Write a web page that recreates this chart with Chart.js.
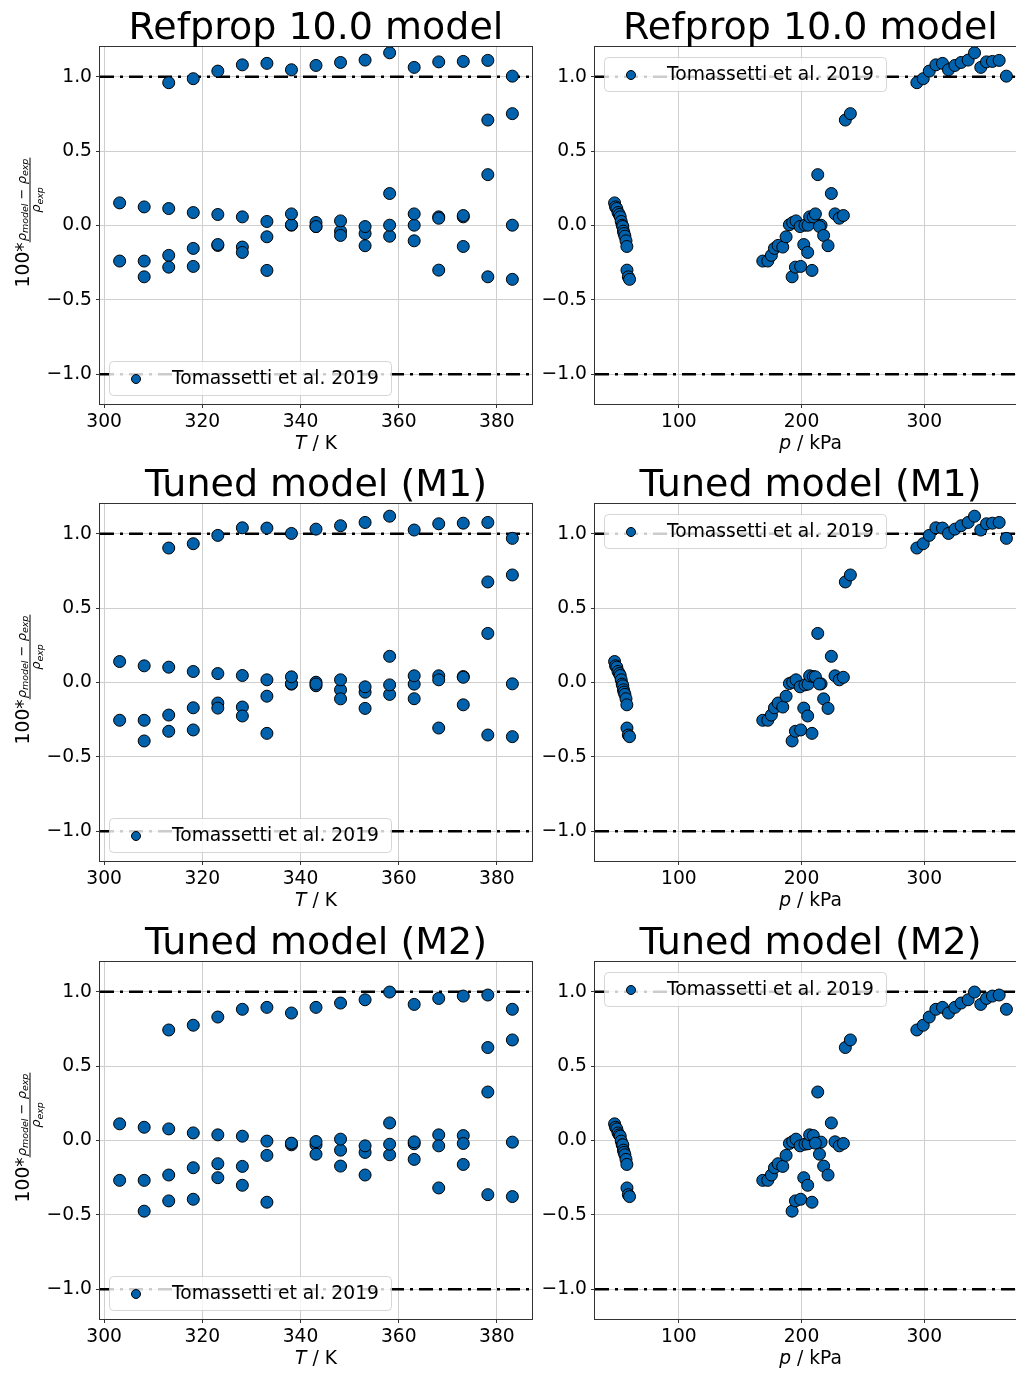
<!DOCTYPE html>
<html>
<head>
<meta charset="utf-8">
<script src="https://cdn.jsdelivr.net/npm/chart.js@4.4.1/dist/chart.umd.min.js"></script>
<style>
  html, body { margin: 0; padding: 0; background: #fff; }
  body { width: 1016px; height: 1373px; overflow: hidden; position: relative; }
  canvas { position: absolute; }
</style>
</head>
<body>
<canvas id="c0" width="540" height="454" style="left:0px;top:0px"></canvas>
<canvas id="c1" width="500" height="454" style="left:540px;top:0px"></canvas>
<canvas id="c2" width="540" height="454" style="left:0px;top:457px"></canvas>
<canvas id="c3" width="500" height="454" style="left:540px;top:457px"></canvas>
<canvas id="c4" width="540" height="454" style="left:0px;top:915px"></canvas>
<canvas id="c5" width="500" height="454" style="left:540px;top:915px"></canvas>
<script>
// experimental points (4 isochores), temperature in K and pressure in kPa
const temps = [
  303.15, 308.15, 313.15, 318.15, 323.15, 328.15, 333.15, 338.15, 343.15, 348.15, 353.15, 358.15, 363.15, 368.15, 373.15, 378.15, 383.15,
  303.15, 308.15, 313.15, 318.15, 323.15, 328.15, 333.15, 338.15, 343.15, 348.15, 353.15, 358.15, 363.15, 368.15, 373.15, 378.15, 383.15,
  308.15, 313.15, 318.15, 323.15, 328.15, 333.15, 338.15, 343.15, 348.15, 353.15, 358.15, 363.15, 368.15, 373.15, 378.15, 383.15,
  313.15, 318.15, 323.15, 328.15, 333.15, 338.15, 343.15, 348.15, 353.15, 358.15, 363.15, 368.15, 373.15, 378.15, 383.15
];
const pressures = [
  47.6, 48.4, 49.4, 50.4, 51.4, 52.2, 53.0, 53.8, 54.3, 54.8, 55.3, 56.0, 56.9, 57.7, 57.6, 58.8, 59.8,
  168.4, 172.5, 175.4, 177.9, 180.9, 184.7, 187.4, 190.1, 192.8, 195.5, 198.8, 202.8, 205.3, 206.6, 209.6, 213.2, 215.9,
  192.3, 195.0, 199.3, 201.8, 205.0, 208.5, 211.3, 214.6, 218.0, 221.6, 224.3, 227.3, 230.8, 234.1, 235.7, 239.8,
  294.0, 299.2, 304.1, 309.5, 314.9, 319.8, 325.0, 330.1, 335.8, 341.0, 346.1, 350.8, 355.6, 361.1, 367.0
];
const devRefprop = [
  0.152, 0.125, 0.114, 0.087, 0.074, 0.058, 0.027, 0.002, -0.007, -0.038, -0.054, -0.072, -0.103, -0.300, -0.141, -0.345, -0.362,
  -0.239, -0.239, -0.201, -0.154, -0.134, -0.145, -0.076, 0.005, 0.020, 0.031, -0.007, 0.002, 0.002, 0.058, 0.058, 0.342, 0.002,
  -0.345, -0.280, -0.275, -0.128, -0.181, -0.302, 0.078, -0.007, -0.067, -0.136, 0.215, 0.078, 0.049, 0.067, 0.709, 0.752,
  0.960, 0.987, 1.038, 1.080, 1.090, 1.047, 1.076, 1.096, 1.112, 1.161, 1.063, 1.100, 1.103, 1.110, 1.004
];
const devM1 = [
  0.141, 0.112, 0.103, 0.074, 0.060, 0.047, 0.018, -0.011, -0.022, -0.049, -0.065, -0.080, -0.109, -0.306, -0.150, -0.353, -0.364,
  -0.254, -0.254, -0.219, -0.170, -0.138, -0.165, -0.092, -0.007, 0.002, 0.018, -0.029, -0.016, -0.011, 0.045, 0.040, 0.330, -0.009,
  -0.393, -0.328, -0.319, -0.172, -0.225, -0.342, 0.038, -0.010, -0.110, -0.174, 0.176, 0.045, 0.018, 0.035, 0.676, 0.723,
  0.904, 0.933, 0.989, 1.040, 1.038, 1.002, 1.031, 1.054, 1.076, 1.118, 1.025, 1.067, 1.071, 1.076, 0.969
];
const devM2 = [
  0.112, 0.089, 0.078, 0.051, 0.038, 0.029, -0.004, -0.029, -0.029, -0.065, -0.080, -0.096, -0.127, -0.319, -0.161, -0.364, -0.377,
  -0.268, -0.268, -0.232, -0.183, -0.156, -0.174, -0.100, -0.020, -0.007, 0.009, -0.036, -0.025, -0.022, 0.038, 0.033, 0.326, -0.011,
  -0.475, -0.406, -0.395, -0.250, -0.301, -0.415, -0.018, -0.092, -0.172, -0.232, 0.118, -0.009, -0.036, -0.020, 0.625, 0.676,
  0.743, 0.775, 0.830, 0.882, 0.895, 0.857, 0.895, 0.924, 0.946, 0.998, 0.915, 0.955, 0.971, 0.978, 0.882
];

const modelTitles = ['Refprop 10.0 model', 'Tuned model (M1)', 'Tuned model (M2)'];
const modelDevs = [devRefprop, devM1, devM2];
const tempTicks = [300, 320, 340, 360, 380];
const presTicks = [100, 200, 300];
const devTicks = [-1.0, -0.5, 0.0, 0.5, 1.0];
const devLimits = [-1.2, 1.2];
const refLines = [1.0, -1.0];
const legendLabel = 'Tomassetti et al. 2019';

const FONT = '"DejaVu Sans", sans-serif';
const BLUE = '#0062ad';

function toPoints(xs, ys) {
  return xs.map((x, i) => ({ x: x, y: ys[i] }));
}

// matplotlib style 5% margin
function padRange(vals) {
  const lo = Math.min(...vals), hi = Math.max(...vals);
  const m = 0.05 * (hi - lo);
  return [lo - m, hi + m];
}

function drawYLabel(ctx, cy) {
  ctx.save();
  ctx.translate(0, cy);
  ctx.rotate(-Math.PI / 2);
  ctx.fillStyle = '#000';
  ctx.textBaseline = 'alphabetic';
  ctx.textAlign = 'left';
  const big = '18.7px ' + FONT;
  const rho = 'italic 13px ' + FONT;
  const op = '13px ' + FONT;
  const sub = 'italic 9.5px ' + FONT;
  function w(txt, f) { ctx.font = f; return ctx.measureText(txt).width; }
  const numParts = [['ρ', rho, 0], ['model', sub, 2.5], [' − ', op, 0], ['ρ', rho, 0], ['exp', sub, 2.5]];
  const denParts = [['ρ', rho, 0], ['exp', sub, 2.5]];
  const numW = numParts.reduce((s, p) => s + w(p[0], p[1]), 0);
  const denW = denParts.reduce((s, p) => s + w(p[0], p[1]), 0);
  const w100 = w('100*', big);
  const fracW = numW + 2;
  const total = w100 + fracW;
  let u = -total / 2 + 3;
  ctx.font = big;
  ctx.fillText('100*', u, 29);
  u += w100;
  // fraction bar
  ctx.fillRect(u, 29.5, fracW, 1);
  let nu = u + 1;
  numParts.forEach(p => { ctx.font = p[1]; ctx.fillText(p[0], nu, 25.5 + p[2]); nu += ctx.measureText(p[0]).width; });
  let du = u + (fracW - denW) / 2;
  denParts.forEach(p => { ctx.font = p[1]; ctx.fillText(p[0], du, 40 + p[2]); du += ctx.measureText(p[0]).width; });
  ctx.restore();
}

const decoPlugin = {
  id: 'deco',
  afterDatasetsDraw(chart, args, opts) {
    const ctx = chart.ctx, a = chart.chartArea;
    // legend box
    const bw = 282, bh = 34;
    const bx = a.left + 9;
    const by = opts.legendAt === 'top' ? a.top + 10 : a.bottom - 9 - bh;
    ctx.save();
    ctx.beginPath();
    ctx.roundRect(bx + 0.5, by + 0.5, bw, bh, 4);
    ctx.fillStyle = 'rgba(255,255,255,0.8)';
    ctx.fill();
    ctx.strokeStyle = 'rgba(204,204,204,0.8)';
    ctx.lineWidth = 1;
    ctx.stroke();
    ctx.beginPath();
    ctx.arc(bx + 27, by + bh / 2 + 1, 4.5, 0, Math.PI * 2);
    ctx.fillStyle = BLUE;
    ctx.fill();
    ctx.strokeStyle = '#000';
    ctx.stroke();
    ctx.fillStyle = '#000';
    ctx.font = '18.7px ' + FONT;
    ctx.textBaseline = 'middle';
    ctx.textAlign = 'left';
    ctx.fillText(legendLabel, bx + 63, by + bh / 2 + 1);
    // axes frame
    ctx.strokeStyle = '#333';
    ctx.lineWidth = 1;
    ctx.strokeRect(Math.round(a.left) - 0.5, Math.round(a.top) - 0.5, Math.round(a.right - a.left) + 1, Math.round(a.bottom - a.top) + 1);
    ctx.restore();
  },
  afterDraw(chart, args, opts) {
    const ctx = chart.ctx, a = chart.chartArea;
    const cx = (a.left + a.right) / 2;
    ctx.save();
    ctx.fillStyle = '#000';
    ctx.textBaseline = 'alphabetic';
    ctx.textAlign = 'center';
    ctx.font = '38px ' + FONT;
    ctx.fillText(opts.title, cx, a.top - 8);
    // x axis label: italic symbol + unit
    ctx.textAlign = 'left';
    ctx.font = 'italic 18.7px ' + FONT;
    const w1 = ctx.measureText(opts.sym).width;
    ctx.font = '18.7px ' + FONT;
    const w2 = ctx.measureText(opts.unit).width;
    let x = cx - (w1 + w2) / 2;
    ctx.font = 'italic 18.7px ' + FONT;
    ctx.fillText(opts.sym, x, a.bottom + 45);
    ctx.font = '18.7px ' + FONT;
    ctx.fillText(opts.unit, x + w1, a.bottom + 45);
    ctx.restore();
    if (opts.yLabel) drawYLabel(ctx, (a.top + a.bottom) / 2);
  }
};

function makePanel(id, xs, ys, xTicks, cfg) {
  const xr = padRange(xs);
  const lines = refLines.map(v => ({
    type: 'line',
    data: [{ x: xr[0], y: v }, { x: xr[1], y: v }],
    showLine: true,
    borderColor: '#000',
    borderWidth: 2.6,
    borderDash: [14, 6, 3, 6],
    pointRadius: 0,
    fill: false
  }));
  const tickFont = { family: FONT, size: 18.7 };
  const gridOpts = { color: '#cfcfcf', lineWidth: 1, tickColor: '#333', tickLength: 4, drawTicks: true };
  new Chart(document.getElementById(id), {
    type: 'scatter',
    data: {
      datasets: [{
        data: toPoints(xs, ys),
        backgroundColor: BLUE,
        borderColor: '#000',
        borderWidth: 1,
        pointRadius: 6,
        pointHoverRadius: 6
      }].concat(lines)
    },
    options: {
      responsive: false,
      animation: false,
      events: [],
      layout: { padding: { top: 47, right: cfg.padRight, left: 0, bottom: 0 } },
      plugins: {
        legend: { display: false },
        tooltip: { enabled: false },
        deco: { title: cfg.title, sym: cfg.sym, unit: cfg.unit, yLabel: cfg.yLabel, legendAt: cfg.legendAt }
      },
      scales: {
        x: {
          type: 'linear',
          min: xr[0],
          max: xr[1],
          afterBuildTicks: s => { s.ticks = xTicks.map(v => ({ value: v })); },
          afterFit: s => { s.height = 50; },
          grid: gridOpts,
          border: { display: false },
          ticks: { font: tickFont, color: '#000', padding: 3, maxRotation: 0, autoSkip: false, callback: v => String(v) }
        },
        y: {
          type: 'linear',
          min: devLimits[0],
          max: devLimits[1],
          afterBuildTicks: s => { s.ticks = devTicks.map(v => ({ value: v })); },
          afterFit: s => { s.width = cfg.yWidth; },
          grid: gridOpts,
          border: { display: false },
          ticks: { font: tickFont, color: '#000', padding: 4, autoSkip: false, callback: v => v.toFixed(1).replace('-', '\u2212') }
        }
      }
    },
    plugins: [decoPlugin]
  });
}

modelDevs.forEach((devs, r) => {
  makePanel('c' + (2 * r), temps, devs, tempTicks, {
    title: modelTitles[r], sym: 'T', unit: ' / K', yLabel: true, legendAt: 'bottom', yWidth: 100, padRight: 8
  });
  makePanel('c' + (2 * r + 1), pressures, devs, presTicks, {
    title: modelTitles[r], sym: 'p', unit: ' / kPa', yLabel: false, legendAt: 'top', yWidth: 55, padRight: 14
  });
});
</script>
</body>
</html>
